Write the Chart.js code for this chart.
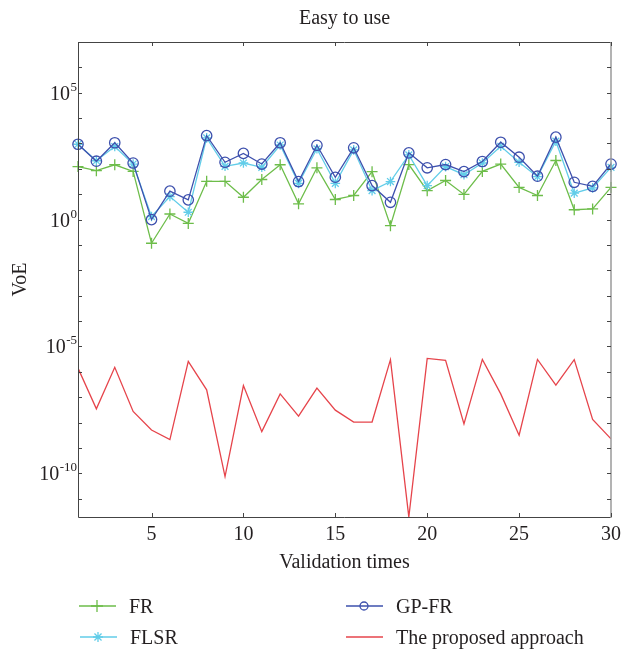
<!DOCTYPE html>
<html>
<head>
<meta charset="utf-8">
<script src="https://cdn.jsdelivr.net/npm/chart.js@4.4.1/dist/chart.umd.min.js"></script>
<style>
  html, body { margin: 0; padding: 0; background: #fff; }
</style>
</head>
<body>
<canvas id="chart" width="622" height="650"></canvas>
<script>
// Valores (VoE, escala log)
const RUNS = [1,2,3,4,5,6,7,8,9,10,11,12,13,14,15,16,17,18,19,20,21,22,23,24,25,26,27,28,29,30];

const FR = [123, 85.1, 145, 79.4, 0.117, 1.66, 0.71, 32.4, 32.4, 7.6,
            38.0, 145, 4.17, 110, 6.2, 8.9, 77.6, 0.575, 148, 13.8,
            34.7, 9.8, 79.4, 155, 18.6, 8.9, 214, 2.45, 2.63, 18.6];

const FLSR = [933, 209, 759, 155, 1.32, 8.1, 1.95, 1660, 126, 170,
              115, 871, 26.9, 617, 26.9, 562, 13.8, 31.6, 355, 21.9,
              123, 58.9, 170, 776, 182, 49.0, 1230, 11.0, 17.8, 115];

const GPFR = [933, 200, 1070, 170, 1.0, 13.2, 6.0, 2040, 182, 407,
              155, 1070, 31.6, 851, 46.8, 676, 21.9, 4.8, 427, 110,
              148, 77.6, 195, 1120, 288, 51.3, 1780, 29.5, 20.4, 155];

const PROPOSED = [1.41e-6, 3.47e-8, 1.51e-6, 2.75e-8, 5.1e-9, 2.14e-9, 2.57e-6, 1.95e-7, 7.4e-11, 2.88e-7,
                  4.4e-9, 1.35e-7, 1.78e-8, 2.29e-7, 3.09e-8, 1.05e-8, 1.05e-8, 3.02e-6, 1.9e-12, 3.39e-6,
                  2.82e-6, 8.9e-9, 3.09e-6, 1.35e-7, 3.16e-9, 3.09e-6, 3.02e-7, 3.02e-6, 1.32e-8, 2.29e-9];

const X_TICKS   = [5, 10, 15, 20, 25, 30];
const Y_LABELS  = [5, 0, -5, -10];          // expoentes rotulados
const Y_DECADES = [-11,-10,-9,-8,-7,-6,-5,-4,-3,-2,-1,0,1,2,3,4,5,6];
const Y_MIN = 1.9e-12;
const Y_MAX = 1e7;

const C_FR   = '#6dbd4a';
const C_FLSR = '#62cde9';
const C_GP   = '#3d50ad';
const C_RED  = '#e6444b';
const TXT    = '#231f20';
const SERIF  = '"Liberation Serif", "DejaVu Serif", serif';

const pts = arr => arr.map((v, i) => ({ x: RUNS[i], y: v }));

const decor = {
  id: 'decor',
  afterDraw(chart) {
    const { ctx, chartArea: a, scales: { x, y } } = chart;
    ctx.save();

    // caixa do eixo
    ctx.lineWidth = 1;
    ctx.strokeStyle = '#444';
    ctx.beginPath();
    ctx.moveTo(a.left + 0.5, a.top + 0.5);
    ctx.lineTo(a.left + 0.5, a.bottom + 0.5);
    ctx.lineTo(a.right, a.bottom + 0.5);
    ctx.moveTo(a.left, a.top + 0.5);
    ctx.lineTo(a.right, a.top + 0.5);
    ctx.stroke();
    ctx.strokeStyle = '#9a9a9a';
    ctx.lineWidth = 1.5;
    ctx.beginPath();
    ctx.moveTo(a.right, a.top);
    ctx.lineTo(a.right, a.bottom + 1);
    ctx.stroke();

    // ticks internos
    ctx.strokeStyle = '#444';
    ctx.lineWidth = 1;
    ctx.beginPath();
    Y_DECADES.forEach(e => {
      const py = Math.round(y.getPixelForValue(10 ** e)) + 0.5;
      ctx.moveTo(a.left, py); ctx.lineTo(a.left + 4, py);
      ctx.moveTo(a.right, py); ctx.lineTo(a.right - 4, py);
    });
    X_TICKS.forEach(v => {
      const px = Math.round(x.getPixelForValue(v)) + 0.5;
      ctx.moveTo(px, a.bottom); ctx.lineTo(px, a.bottom - 4);
      ctx.moveTo(px, a.top); ctx.lineTo(px, a.top + 4);
    });
    ctx.stroke();

    ctx.fillStyle = TXT;

    // rótulos x
    ctx.font = '20px ' + SERIF;
    ctx.textAlign = 'center';
    ctx.textBaseline = 'alphabetic';
    X_TICKS.forEach(v => ctx.fillText(String(v), x.getPixelForValue(v), a.bottom + 23));

    // rótulos y (10^n)
    Y_LABELS.forEach(e => {
      const py = y.getPixelForValue(10 ** e);
      const exp = String(e);
      ctx.font = '13px ' + SERIF;
      const ew = ctx.measureText(exp).width;
      ctx.textAlign = 'right';
      ctx.fillText(exp, a.left - 1, py - 2);
      ctx.font = '20px ' + SERIF;
      ctx.fillText('10', a.left - 1 - ew - 0.5, py + 7);
    });

    // títulos
    ctx.font = '20px ' + SERIF;
    ctx.textAlign = 'center';
    ctx.fillText('Easy to use', (a.left + a.right) / 2, 24);
    ctx.fillText('Validation times', (a.left + a.right) / 2, 568);
    ctx.save();
    ctx.translate(26, (a.top + a.bottom) / 2);
    ctx.rotate(-Math.PI / 2);
    ctx.fillText('VoE', 0, 0);
    ctx.restore();

    // legenda
    const items = [
      { label: 'FR',   color: C_FR,   style: 'cross',  r: 6,   x0: 79,  y0: 606 },
      { label: 'FLSR', color: C_FLSR, style: 'star',   r: 5,   x0: 80,  y0: 637 },
      { label: 'GP-FR', color: C_GP,  style: 'circle', r: 4,   x0: 346, y0: 606 },
      { label: 'The proposed approach', color: C_RED, style: false, r: 0, x0: 346, y0: 637 },
    ];
    items.forEach(it => {
      ctx.strokeStyle = it.color;
      ctx.fillStyle = 'rgba(0,0,0,0)';
      ctx.lineWidth = 1.3;
      ctx.beginPath();
      ctx.moveTo(it.x0, it.y0);
      ctx.lineTo(it.x0 + 37, it.y0);
      ctx.stroke();
      if (it.style) {
        Chart.helpers.drawPoint(ctx, { pointStyle: it.style, radius: it.r, borderWidth: 1.3, rotation: 0 },
          it.x0 + 18, it.y0);
      }
      ctx.fillStyle = TXT;
      ctx.font = '20px ' + SERIF;
      ctx.textAlign = 'left';
      ctx.fillText(it.label, it.x0 + 50, it.y0 + 7);
    });

    ctx.restore();
  },
};

const lineDs = (data, color, style, r, order) => ({
  data: pts(data),
  borderColor: color,
  backgroundColor: 'rgba(0,0,0,0)',
  pointBorderColor: color,
  pointBackgroundColor: 'rgba(0,0,0,0)',
  pointStyle: style,
  pointRadius: r,
  pointBorderWidth: 1.3,
  borderWidth: 1.3,
  tension: 0,
  clip: 10,
  order,
});

new Chart(document.getElementById('chart'), {
  type: 'line',
  data: {
    datasets: [
      { label: 'FR', ...lineDs(FR, C_FR, 'cross', 5.5, 3) },
      { label: 'FLSR', ...lineDs(FLSR, C_FLSR, 'star', 4.8, 2) },
      { label: 'GP-FR', ...lineDs(GPFR, C_GP, 'circle', 5.2, 1) },
      { label: 'The proposed approach', ...lineDs(PROPOSED, C_RED, false, 0, 0), clip: 0 },
    ],
  },
  options: {
    responsive: false,
    animation: false,
    layout: { padding: { left: 0, top: 42, right: 11, bottom: 0 } },
    plugins: {
      legend: { display: false },
      title: { display: false },
      tooltip: { enabled: false },
    },
    scales: {
      x: {
        type: 'linear', min: 1, max: 30,
        grid: { display: false, drawTicks: false },
        border: { display: false },
        ticks: { display: false },
        afterFit(s) { s.height = 133; },
      },
      y: {
        type: 'logarithmic', min: Y_MIN, max: Y_MAX,
        grid: { display: false, drawTicks: false },
        border: { display: false },
        ticks: { display: false },
        afterFit(s) { s.width = 78; },
      },
    },
  },
  plugins: [decor],
});
</script>
</body>
</html>
